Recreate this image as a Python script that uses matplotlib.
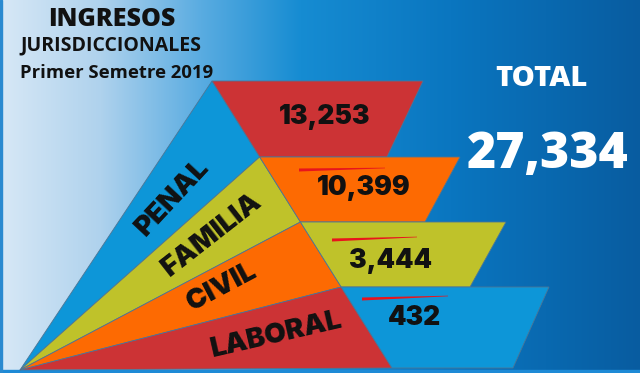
from matplotlib import pyplot as plt
from matplotlib.patches import Polygon, Rectangle
import numpy as np

# data
categories = ['PENAL', 'FAMILIA', 'CIVIL', 'LABORAL']
values = [13253, 10399, 3444, 432]
total = 27334
title_lines = ['INGRESOS', 'JURISDICCIONALES', 'Primer Semetre 2019']

wedge_colors = ['#0d96d8', '#bfc22a', '#fd6a02', '#cc3335']
box_colors = ['#cc3335', '#fd6a02', '#bfc22a', '#0d96d8']

# layout (pixels, y down)
W, H = 640, 373
apex = (20, 370)
row_y = [81, 157, 222, 287, 368]
top_left = (212, 81)
bot_left = (392, 368)
right_x = [(423, 387), (460, 425), (506, 470), (549, 513)]
streaks = [None, (299, 170, 385, 168), (332, 240, 417, 237), (362, 299, 448, 296)]
cat_pos = [(173, 198, 47), (212, 235, 38), (222, 287, 28), (277, 335, 13)]
val_pos = [(325, 117), (364, 188), (391, 261), (414, 318)]
heavy = ['Inter', 'DejaVu Sans']
title_font = ['Open Sans', 'DejaVu Sans']


def x_left(y):
    return top_left[0] + (y - top_left[1]) * (bot_left[0] - top_left[0]) / (bot_left[1] - top_left[1])


fig = plt.figure(figsize=(6.4, 3.73), dpi=100)
ax = fig.add_axes([0, 0, 1, 1])
ax.set_xlim(0, W)
ax.set_ylim(H, 0)
ax.axis('off')

# background gradient
stops_x = [0, 100, 200, 300, 450, 640]
stops_c = np.array([[215, 232, 246], [175, 210, 237], [90, 172, 225],
                    [22, 140, 210], [10, 118, 192], [8, 92, 160]]) / 255
xs = np.arange(W)
grad = np.stack([np.interp(xs, stops_x, stops_c[:, k]) for k in range(3)], axis=-1)
ax.imshow(np.tile(grad[None, :, :], (H, 1, 1)), extent=(0, W, H, 0), aspect='auto', zorder=0)
ax.add_patch(Rectangle((0, 370), W, 3, color='#1e8ad6', zorder=1))
ax.add_patch(Rectangle((0, 0), 2, H, color='#2a8ad0', zorder=1))

edge = '#4d7595'
for i in range(4):
    y0, y1 = row_y[i], row_y[i + 1]
    xl0, xl1 = x_left(y0), x_left(y1)
    # wedge from apex
    ax.add_patch(Polygon([apex, (xl0, y0), (xl1, y1)], closed=True,
                         facecolor=wedge_colors[i], edgecolor=edge, lw=0.6, zorder=2))
    # trapezoid with value
    ax.add_patch(Polygon([(xl0, y0), (right_x[i][0], y0), (right_x[i][1], y1), (xl1, y1)],
                         closed=True, facecolor=box_colors[i], edgecolor=edge, lw=0.6, zorder=2))
    ax.text(val_pos[i][0], val_pos[i][1], f'{values[i]:,}', ha='center', va='center',
            fontsize=19, fontweight='black', family=heavy, color='#111111', zorder=4)
    cx, cy, ang = cat_pos[i]
    ax.text(cx, cy, categories[i], ha='center', va='center', rotation=ang, rotation_mode='anchor',
            fontsize=20, fontweight='black', family=heavy, color='#111111', zorder=4)
    if streaks[i]:
        sx0, sy0, sx1, sy1 = streaks[i]
        ax.add_patch(Polygon([(sx0, sy0 - 1.5), (sx1, sy1 - 0.3), (sx1, sy1 + 0.3), (sx0, sy0 + 1.5)],
                             closed=True, facecolor='#e8141c', edgecolor='none', zorder=3))

# titles
ax.text(112, 19, title_lines[0], ha='center', va='center', fontsize=18,
        fontweight='heavy', family=title_font, color='#111111')
ax.text(111, 45, title_lines[1], ha='center', va='center', fontsize=14,
        fontweight='bold', family=title_font, color='#111111')
ax.text(117, 73, title_lines[2], ha='center', va='center', fontsize=13.3,
        fontweight='bold', family=title_font, color='#111111')

ax.text(541, 78, 'TOTAL', ha='center', va='center', fontsize=21,
        fontweight='heavy', family=title_font, color='white')
ax.text(548, 155, f'{total:,}', ha='center', va='center', fontsize=36,
        fontweight='heavy', family=title_font, color='white')

fig.savefig('out.png', dpi=100)
